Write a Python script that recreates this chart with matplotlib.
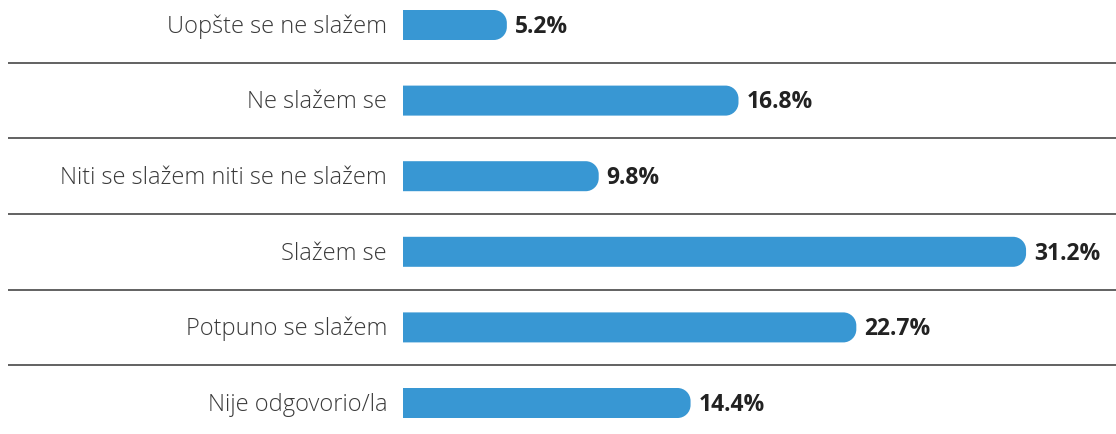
import numpy as np
import matplotlib
matplotlib.use('Agg')
import matplotlib.pyplot as plt
from matplotlib.path import Path
from matplotlib.patches import PathPatch

categories = ['Uopšte se ne slažem', 'Ne slažem se', 'Niti se slažem niti se ne slažem',
              'Slažem se', 'Potpuno se slažem', 'Nije odgovorio/la']
values = [5.2, 16.8, 9.8, 31.2, 22.7, 14.4]

BLUE = '#3897d3'
W, H = 1116, 435
px_x = 19.97      # pixels per percent
px_y = 75.6       # pixels per row
x0 = 403          # pixel where bars start
y_top = 26        # pixel centre of first row

plt.rcParams['font.family'] = ['Open Sans', 'DejaVu Sans']


def bar_path(x_end, yc, h, rx, ry):
    # flat left side, rounded corners on the right
    k = 0.5523
    top, bot = yc - h / 2, yc + h / 2
    verts = [(0, top), (x_end - rx, top),
             (x_end - rx + k * rx, top), (x_end, top + ry - k * ry), (x_end, top + ry),
             (x_end, bot - ry),
             (x_end, bot - ry + k * ry), (x_end - rx + k * rx, bot), (x_end - rx, bot),
             (0, bot), (0, top)]
    codes = [Path.MOVETO, Path.LINETO,
             Path.CURVE4, Path.CURVE4, Path.CURVE4,
             Path.LINETO,
             Path.CURVE4, Path.CURVE4, Path.CURVE4,
             Path.LINETO, Path.CLOSEPOLY]
    return Path(verts, codes)


fig = plt.figure(figsize=(W / 100, H / 100), dpi=100)
ax = fig.add_axes([0, 0, 1, 1])
ax.set_xlim(-x0 / px_x, (W - x0) / px_x)
ax.set_ylim((H - y_top) / px_y, -y_top / px_y)
ax.axis('off')

bar_h = 30 / px_y
rad = 13

for i, (cat, v) in enumerate(zip(categories, values)):
    ax.add_patch(PathPatch(bar_path(v, i, bar_h, rad / px_x, rad / px_y),
                           facecolor=BLUE, edgecolor='none'))
    ax.text(-16 / px_x, i + 0.01, cat, ha='right', va='center', fontsize=17, color='#3a3a3a',
            fontweight='light')
    ax.text(v + 8 / px_x, i + 0.01, '%.1f%%' % v, ha='left', va='center', fontsize=16.5,
            fontweight='bold', color='#222222')

for i in range(len(categories) - 1):
    ax.plot([(8 - x0) / px_x, (W - x0) / px_x], [i + 0.5, i + 0.5],
            color='#555555', lw=1.3, solid_capstyle='butt')

fig.savefig('out.png', dpi=100)
